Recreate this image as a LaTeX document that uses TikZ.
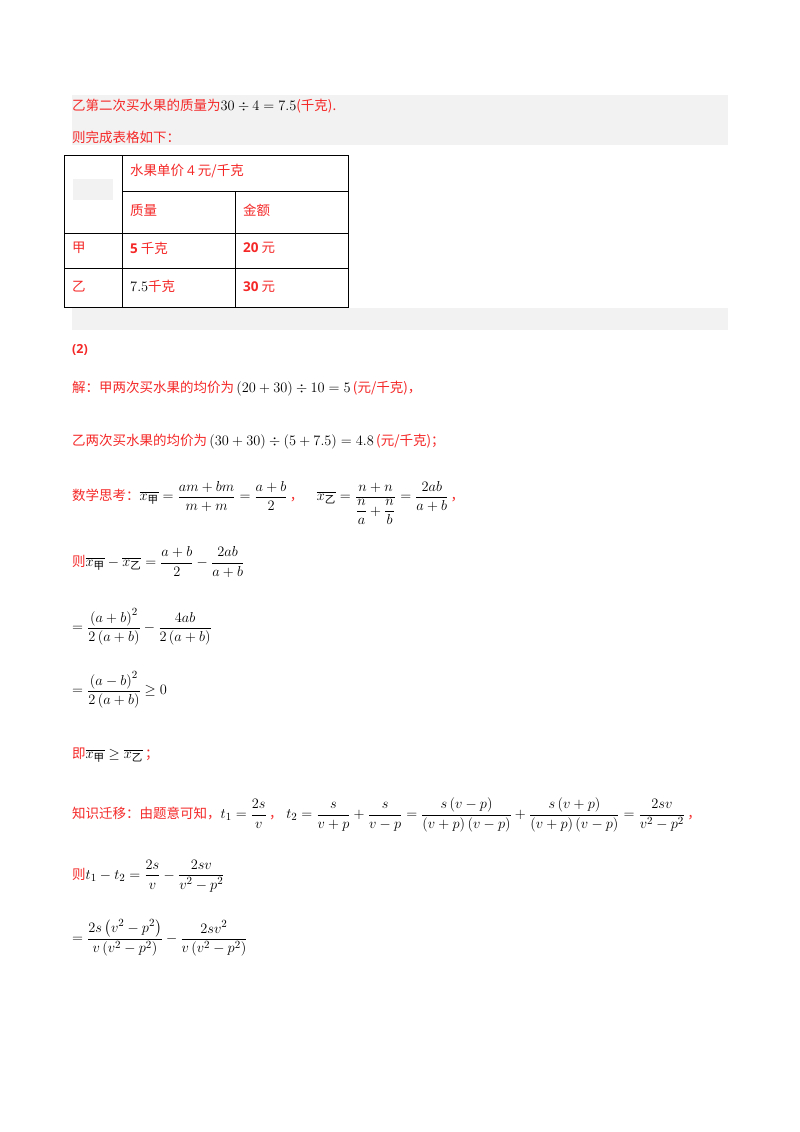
\documentclass[tikz,border=0pt]{standalone}
\usepackage{amsmath}
\usepackage{fontspec}
\newfontfamily\cjk{Noto Sans CJK SC}
\newfontfamily\sansb{Open Sans}
\definecolor{rd}{RGB}{245,40,40}
\definecolor{bandgray}{RGB}{242,242,242}
\newcommand{\cn}[1]{\text{\cjk #1}}
\newcommand{\xa}{\overline{x_{\cn{甲}}}}
\newcommand{\xb}{\overline{x_{\cn{乙}}}}
\newcommand{\mm}[1]{\textcolor{black}{\fontsize{15}{18}\selectfont$#1$}}
\begin{document}
\begin{tikzpicture}[x=1pt,y=-1pt,
  txt/.style={anchor=west,inner sep=0pt,font=\fontsize{13.5}{16}\selectfont\cjk,text=rd},
  cell/.style={anchor=west,inner sep=0pt,font=\fontsize{13.5}{16}\selectfont\cjk,text=rd},
  grid/.style={draw=black,line width=1pt}]
\useasboundingbox (0,0) rectangle (800,1132);
\fill[white] (0,0) rectangle (800,1132);
\fill[bandgray] (72,95) rectangle (728,145);
\fill[bandgray] (72,308) rectangle (728,330);
\node[txt] (l1) at (72,106) {乙第二次买水果的质量为\mm{30\div4=7.5}(千克).};
\node[txt] (l2) at (72,137) {则完成表格如下：};
% table
\fill[bandgray] (73,179) rectangle (113,200);
\draw[grid] (64,155) rectangle (348,307);
\draw[grid] (122,155) -- (122,307);
\draw[grid] (235,191) -- (235,307);
\draw[grid] (122,191) -- (348,191);
\draw[grid] (64,233) -- (348,233);
\draw[grid] (64,268) -- (348,268);
\node[cell] (c1) at (130,171) {水果单价 {\sansb 4} 元/千克};
\node[cell] (c2) at (130,210) {质量};
\node[cell] (c3) at (243,210) {金额};
\node[cell] (c4) at (72,248) {甲};
\node[cell] (c5) at (130,248) {{\sansb\bfseries 5} 千克};
\node[cell] (c6) at (243,248) {{\sansb\bfseries 20} 元};
\node[cell] (c7) at (72,287) {乙};
\node[cell] (c8) at (130,286) {\mm{7.5}千克};
\node[cell] (c9) at (243,287) {{\sansb\bfseries 30} 元};
\node[txt,font=\fontsize{12.5}{14}\selectfont\sansb\bfseries] (p2) at (72,350) {(2)};
\node[txt] (s1) at (72,389) {解：甲两次买水果的均价为\,\mm{\left(20+30\right)\div10=5}\,(元/千克)，};
\node[txt] (s2) at (72,442) {乙两次买水果的均价为\,\mm{\left(30+30\right)\div\left(5+7.5\right)=4.8}\,(元/千克)；};
\node[txt] (s3) at (72,503) {数学思考：\mm{\xa=\dfrac{am+bm}{m+m}=\dfrac{a+b}{2}}\,，\quad \mm{\xb=\dfrac{n+n}{\dfrac{n}{a}+\dfrac{n}{b}}=\dfrac{2ab}{a+b}}\,，};
\node[txt] (s4) at (72,562) {则\mm{\xa-\xb=\dfrac{a+b}{2}-\dfrac{2ab}{a+b}}};
\node[txt] (s5) at (72,627) {\mm{=\dfrac{\left(a+b\right)^2}{2\left(a+b\right)}-\dfrac{4ab}{2\left(a+b\right)}}};
\node[txt] (s6) at (72,690) {\mm{=\dfrac{\left(a-b\right)^2}{2\left(a+b\right)}\geq0}};
\node[txt] (s7) at (72,755) {即\mm{\xa\geq\xb}\,；};
\node[txt] (s8) at (72,815) {知识迁移：由题意可知，\mm{t_1=\dfrac{2s}{v}}\,，\;\mm{t_2=\dfrac{s}{v+p}+\dfrac{s}{v-p}=\dfrac{s\left(v-p\right)}{\left(v+p\right)\left(v-p\right)}+\dfrac{s\left(v+p\right)}{\left(v+p\right)\left(v-p\right)}=\dfrac{2sv}{v^2-p^2}}\,，};
\node[txt] (s9) at (72,876) {则\mm{t_1-t_2=\dfrac{2s}{v}-\dfrac{2sv}{v^2-p^2}}};
\node[txt] (s10) at (72,938) {\mm{=\dfrac{2s\left(v^2-p^2\right)}{v\left(v^2-p^2\right)}-\dfrac{2sv^2}{v\left(v^2-p^2\right)}}};
\end{tikzpicture}
\end{document}
